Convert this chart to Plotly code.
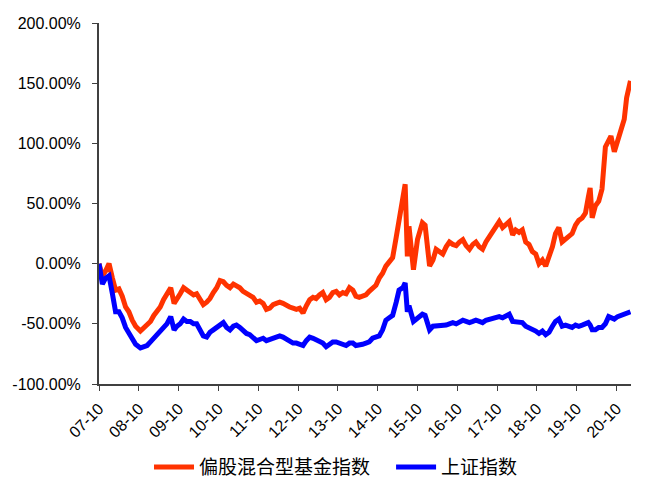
import plotly.graph_objects as go

dates = [
    '2007-10-01', '2007-11-01', '2007-12-01', '2008-01-01', '2008-02-01', '2008-03-01',
    '2008-04-01', '2008-05-01', '2008-06-01', '2008-07-01', '2008-08-01', '2008-09-01',
    '2008-10-15', '2008-11-15', '2008-12-15', '2009-01-15', '2009-02-15', '2009-03-15',
    '2009-04-15', '2009-05-15', '2009-06-15', '2009-07-20', '2009-08-20', '2009-09-15',
    '2009-10-15', '2009-11-15', '2009-12-15', '2010-01-15', '2010-02-15', '2010-03-15',
    '2010-04-15', '2010-05-15', '2010-06-15', '2010-07-15', '2010-08-15', '2010-09-15',
    '2010-10-15', '2010-11-15', '2010-12-15', '2011-01-15', '2011-02-15', '2011-03-15',
    '2011-04-15', '2011-05-15', '2011-06-15', '2011-07-15', '2011-08-15', '2011-09-15',
    '2011-10-15', '2011-11-15', '2011-12-15', '2012-01-15', '2012-02-15', '2012-03-15',
    '2012-04-15', '2012-05-15', '2012-06-15', '2012-07-15', '2012-08-15', '2012-09-15',
    '2012-10-15', '2012-11-15', '2012-12-15', '2013-01-15', '2013-02-15', '2013-03-15',
    '2013-04-15', '2013-05-15', '2013-06-15', '2013-07-15', '2013-08-15', '2013-09-15',
    '2013-10-15', '2013-11-15', '2013-12-15', '2014-01-15', '2014-02-15', '2014-03-15',
    '2014-04-15', '2014-05-15', '2014-06-15', '2014-07-15', '2014-08-15', '2014-09-15',
    '2014-10-15', '2014-11-15', '2014-12-15', '2015-01-15', '2015-02-15', '2015-03-20',
    '2015-04-15', '2015-05-20', '2015-06-10', '2015-06-30', '2015-07-15', '2015-08-25',
    '2015-10-01', '2015-11-15', '2015-12-10', '2016-01-20', '2016-02-20', '2016-03-20',
    '2016-04-20', '2016-05-20', '2016-06-20', '2016-07-20', '2016-08-20', '2016-09-20',
    '2016-10-20', '2016-11-20', '2016-12-20', '2017-01-20', '2017-02-20', '2017-03-20',
    '2017-04-20', '2017-05-20', '2017-06-20', '2017-07-20', '2017-08-20', '2017-09-20',
    '2017-10-20', '2017-11-20', '2017-12-20', '2018-01-20', '2018-02-20', '2018-03-20',
    '2018-04-20', '2018-05-20', '2018-06-20', '2018-07-20', '2018-08-20', '2018-09-20',
    '2018-10-20', '2018-11-20', '2018-12-20', '2019-01-20', '2019-02-20', '2019-03-20',
    '2019-04-20', '2019-05-20', '2019-06-20', '2019-07-20', '2019-08-20', '2019-09-20',
    '2019-10-20', '2019-11-20', '2019-12-20', '2020-01-15', '2020-02-01', '2020-02-20',
    '2020-03-20', '2020-04-20', '2020-05-20', '2020-06-20', '2020-07-20', '2020-08-10',
    '2020-09-10', '2020-10-10', '2020-11-10', '2020-12-10', '2021-01-01', '2021-01-20',
    '2021-02-05',
]

fund_index = [
    0, -10, -6, 0, -12, -22,
    -21, -27, -36, -40, -47, -52,
    -56, -53, -51, -48, -43, -40,
    -36, -30, -26, -20, -33, -30,
    -25, -20, -22, -24, -26, -25,
    -30, -34, -32, -29, -24, -20,
    -14, -15, -18, -20, -17, -18,
    -20, -23, -25, -26, -28, -32,
    -31, -33, -38, -37, -34, -33,
    -32, -33, -35, -36, -37, -38,
    -37, -41, -35, -30, -28, -29,
    -26, -24, -30, -28, -24, -23,
    -26, -24, -25, -20, -22, -27,
    -28, -27, -26, -23, -20, -18,
    -12, -8, -2, 2, 5, 22,
    35, 55, 66, 6, 31, -5,
    20, 34, 32, -2, 3, 12,
    10, 8, 14, 18, 16, 15,
    18, 20, 15, 12, 16, 18,
    14, 12, 18, 22, 26, 30,
    35, 30, 32, 35, 24, 28,
    26, 28, 18, 16, 10, 8,
    0, 3, -2, 5, 14, 25,
    30, 18, 20, 22, 25, 32,
    36, 38, 42, 55, 63, 38,
    48, 52, 62, 97, 102, 106,
    93, 103, 110, 120, 138, 148,
    152,
]

sse_index = [
    0, -17, -12, -10, -25, -40,
    -40, -45, -53, -58, -63, -67,
    -70, -69, -68, -65, -62, -60,
    -56, -53, -50, -44, -55, -52,
    -50, -46, -48, -48, -50, -50,
    -55, -60, -61, -57, -55, -53,
    -50, -49, -53, -55, -52, -51,
    -53, -56, -58, -59, -61, -64,
    -63, -62, -64, -63, -61, -61,
    -60, -61, -63, -64, -66, -66,
    -67, -68, -64, -61, -62, -63,
    -65, -66, -69, -67, -65, -65,
    -66, -67, -68, -66, -66, -68,
    -68, -67, -66, -65, -62, -61,
    -60, -55, -47, -45, -43, -32,
    -22, -20, -16, -40, -35, -48,
    -45, -42, -43, -55, -52, -52,
    -51, -52, -51, -50, -49, -50,
    -48, -47, -48, -49, -48, -47,
    -48, -49, -47, -46, -45, -45,
    -44, -45, -44, -42, -48, -48,
    -49, -49, -52, -53, -55, -56,
    -58, -56, -59, -57, -52, -48,
    -46, -52, -51, -52, -53, -51,
    -52, -51, -50, -49, -51, -55,
    -55, -53, -53, -50, -44, -45,
    -46, -44, -43, -42, -41, -41,
    -40,
]

y_ticks = [-100, -50, 0, 50, 100, 150, 200]
y_tick_text = ['-100.00%', '-50.00%', '0.00%', '50.00%', '100.00%', '150.00%', '200.00%']

font_family = 'Liberation Sans, Arial, Noto Sans CJK SC, sans-serif'

fig = go.Figure()
fig.add_trace(go.Scatter(x=dates, y=fund_index, mode='lines', name='偏股混合型基金指数',
                         line=dict(color='#FF3300', width=5), legend='legend'))
fig.add_trace(go.Scatter(x=dates, y=sse_index, mode='lines', name='上证指数',
                         line=dict(color='#0000FF', width=5), legend='legend2'))

fig.update_xaxes(
    type='date', range=['2007-10-01', '2021-02-10'], automargin=False,
    tick0='2007-10-01', dtick='M12', tickformat='%y-%m', tickangle=-45,
    ticks='outside', ticklen=5, tickcolor='#404040', ticklabelstandoff=2,
    showline=True, linecolor='#404040', linewidth=2, showgrid=False, zeroline=False,
    tickfont=dict(size=16, color='#000000'),
)
fig.update_yaxes(
    range=[-100, 200], tickvals=y_ticks, ticktext=y_tick_text, automargin=False,
    ticks='outside', ticklen=5, tickcolor='#404040', ticklabelstandoff=8,
    showline=True, linecolor='#404040', linewidth=2, showgrid=False, zeroline=False,
    tickfont=dict(size=16, color='#000000'),
)

# page body has an 8px margin, so the figure is a bit smaller than the window
fig.update_layout(
    width=659, height=492,
    margin=dict(l=91, r=36, t=15, b=116, autoexpand=False),
    plot_bgcolor='white', paper_bgcolor='white',
    font=dict(family=font_family, color='#000000'),
    showlegend=True,
    legend=dict(orientation='h', x=0.094, xanchor='left', y=-0.23, yanchor='middle',
                font=dict(size=19), itemwidth=40),
    legend2=dict(orientation='h', x=0.549, xanchor='left', y=-0.23, yanchor='middle',
                 font=dict(size=19), itemwidth=40),
)

fig.write_html("out.html")
